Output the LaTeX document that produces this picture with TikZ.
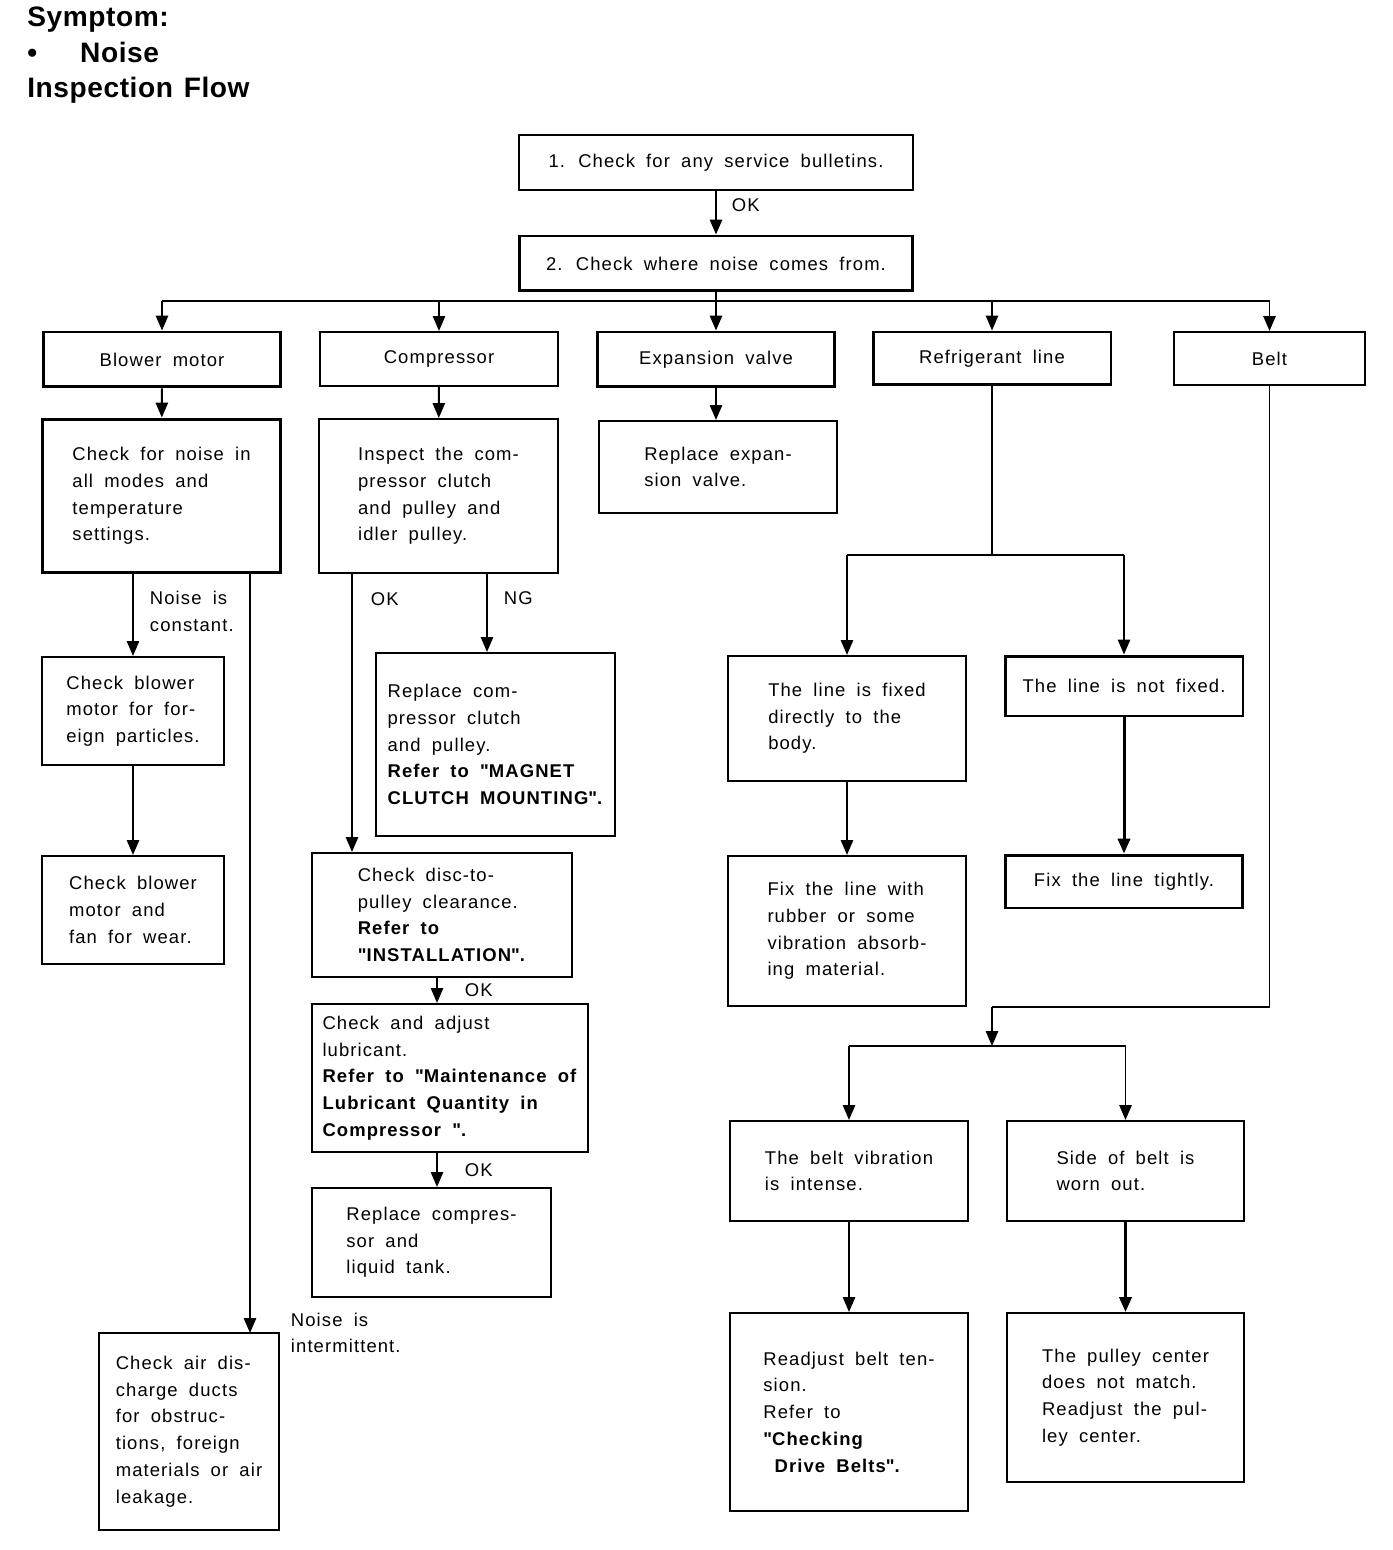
\documentclass[tikz,border=0pt]{standalone}
\usepackage{fontspec}
\setmainfont{Liberation Sans}[LetterSpace=6,WordSpace=1.8]
\newfontfamily\headfam{Liberation Sans}[LetterSpace=2,WordSpace=1.3]
\usetikzlibrary{arrows.meta}
\newcommand\bodyfont{\fontsize{10.5}{15.2}\selectfont}
\newcommand\headfont{\headfam\fontsize{16}{20}\selectfont\bfseries}
\newcommand\dq{\textquotedbl}

\begin{document}
\begin{tikzpicture}[x=0.02cm,y=-0.02cm,
    box/.style={draw,line width=1.2pt,align=left,inner sep=0pt,font=\bodyfont},
    heavybox/.style={box,line width=1.7pt},
    lbl/.style={inner sep=0pt,align=left,font=\bodyfont},
    conn/.style={line width=1.1pt},
    arr/.style={conn,-{Triangle[length=8.5pt,width=7pt]}}]
  \useasboundingbox (0,0) rectangle (1392,1550);

  \node[inner sep=0pt,align=left,font=\headfont,anchor=north west] (title) at (27,7)
    {Symptom:\\\textbullet\hspace{0.86cm}Noise\\Inspection Flow};

  % top of the flow
  \node[box,align=center,minimum width=7.88cm,minimum height=1.10cm] (svc) at (716,162.5)
    {1. Check for any service bulletins.};
  \node[heavybox,align=center,minimum width=7.86cm,minimum height=1.10cm] (where) at (716,263.5)
    {2. Check where noise comes from.};

  % noise sources
  \node[heavybox,align=center,minimum width=4.76cm,minimum height=1.10cm] (blower) at (162,359.5) {Blower motor};
  \node[box,align=center,minimum width=4.76cm,minimum height=1.08cm] (compr) at (439,359) {Compressor};
  \node[heavybox,align=center,minimum width=4.74cm,minimum height=1.10cm] (expv) at (716,359.5) {Expansion valve};
  \node[heavybox,align=center,minimum width=4.76cm,minimum height=1.06cm] (refl) at (992,358.5) {Refrigerant line};
  \node[box,align=center,minimum width=3.82cm,minimum height=1.06cm] (belt) at (1269.5,358.5) {Belt};

  % blower motor branch
  \node[heavybox,minimum width=4.78cm,minimum height=3.08cm] (chkNoise) at (161.5,496)
    {Check for noise in\\all modes and\\temperature\\settings.};
  \node[box,minimum width=3.64cm,minimum height=2.16cm] (fp) at (133,711)
    {Check blower\\motor for for-\\eign particles.};
  \node[box,minimum width=3.64cm,minimum height=2.16cm] (wear) at (133,910)
    {Check blower\\motor and\\fan for wear.};
  \node[box,minimum width=3.60cm,minimum height=3.94cm] (air) at (189,1431.5)
    {Check air dis-\\charge ducts\\for obstruc-\\tions, foreign\\materials or air\\leakage.};

  % compressor branch
  \node[box,minimum width=4.78cm,minimum height=3.08cm] (inspect) at (438.5,496)
    {Inspect the com-\\pressor clutch\\and pulley and\\idler pulley.};
  \node[box,minimum width=4.78cm,minimum height=3.66cm] (replClutch) at (495.5,744.5)
    {Replace com-\\pressor clutch\\and pulley.\\\textbf{Refer to \dq MAGNET}\\\textbf{CLUTCH MOUNTING\dq.}};
  \node[box,minimum width=5.20cm,minimum height=2.48cm] (disc) at (442,915)
    {Check disc-to-\\pulley clearance.\\\textbf{Refer to}\\\textbf{\dq INSTALLATION\dq.}};
  \node[box,minimum width=5.52cm,minimum height=2.96cm] (lub) at (450,1078)
    {Check and adjust\\lubricant.\\\textbf{Refer to \dq Maintenance of}\\\textbf{Lubricant Quantity in}\\\textbf{Compressor \dq.}};
  \node[box,minimum width=4.78cm,minimum height=2.18cm] (replComp) at (431.5,1242.5)
    {Replace compres-\\sor and\\liquid tank.};

  % expansion valve branch
  \node[box,minimum width=4.76cm,minimum height=1.84cm] (replExp) at (718,467)
    {Replace expan-\\sion valve.};

  % refrigerant line branch
  \node[box,minimum width=4.76cm,minimum height=2.50cm] (fixed) at (847,718.5)
    {The line is fixed\\directly to the\\body.};
  \node[heavybox,align=center,minimum width=4.76cm,minimum height=1.20cm] (notfixed) at (1124,686)
    {The line is not fixed.};
  \node[box,minimum width=4.76cm,minimum height=3.00cm] (fixline) at (847,931)
    {Fix the line with\\rubber or some\\vibration absorb-\\ing material.};
  \node[heavybox,align=center,minimum width=4.74cm,minimum height=1.06cm] (tight) at (1124,881.5)
    {Fix the line tightly.};

  % belt branch
  \node[box,minimum width=4.76cm,minimum height=2.00cm] (vib) at (849,1171)
    {The belt vibration\\is intense.};
  \node[box,minimum width=4.74cm,minimum height=2.00cm] (worn) at (1125.5,1171)
    {Side of belt is\\worn out.};
  \node[box,minimum width=4.76cm,minimum height=3.96cm] (readj) at (849,1412)
    {Readjust belt ten-\\sion.\\Refer to\\\textbf{\dq Checking}\\\textbf{\ Drive Belts\dq.}};
  \node[box,minimum width=4.74cm,minimum height=3.38cm] (pulley) at (1125.5,1397.5)
    {The pulley center\\does not match.\\Readjust the pul-\\ley center.};

  % helper points
  \coordinate (bus) at (716,301);
  \coordinate (intm) at (250,1333);
  \coordinate (okx) at (352,0);
  \coordinate (ngx) at (487,0);
  \coordinate (lubx) at (437,0);
  \coordinate (rsplit) at (992,555);
  \coordinate (bsplit) at (992,1007);
  \coordinate (bsplit2) at (992,1046);

  % connectors
  \draw[arr] (svc) -- (where) node[lbl,pos=0.33,anchor=west,xshift=0.3cm] {OK};
  \draw[conn] (where) -- (bus);
  \draw[conn] (blower.north |- bus) -- (belt.north |- bus);
  \foreach \n in {blower,compr,expv,refl,belt}
    \draw[arr] (\n.north |- bus) -- (\n.north);

  \draw[arr] (blower) -- (chkNoise);
  \draw[arr] (chkNoise.south -| fp.north) -- (fp.north)
    node[lbl,pos=0.45,anchor=west,xshift=0.32cm] {Noise is\\constant.};
  \draw[arr] (fp) -- (wear);
  \draw[arr] (chkNoise.south -| intm) -- (intm)
    node[lbl,pos=1,anchor=west,xshift=0.8cm] {Noise is\\intermittent.};

  \draw[arr] (compr) -- (inspect);
  \draw[arr] (inspect.south -| okx) -- (disc.north -| okx)
    node[lbl,pos=0.09,anchor=west,xshift=0.36cm] {OK};
  \draw[arr] (inspect.south -| ngx) -- (replClutch.north -| ngx)
    node[lbl,pos=0.31,anchor=west,xshift=0.32cm] {NG};
  \draw[arr] (disc.south -| lubx) -- (lub.north -| lubx)
    node[lbl,pos=0.5,anchor=west,xshift=0.54cm] {OK};
  \draw[arr] (lub.south -| lubx) -- (replComp.north -| lubx)
    node[lbl,pos=0.5,anchor=west,xshift=0.54cm] {OK};

  \draw[arr] (expv.south) -- (expv.south |- replExp.north);

  \draw[conn] (refl) -- (rsplit);
  \draw[conn] (fixed.north |- rsplit) -- (notfixed.north |- rsplit);
  \draw[arr] (fixed.north |- rsplit) -- (fixed);
  \draw[arr] (notfixed.north |- rsplit) -- (notfixed);
  \draw[arr] (fixed) -- (fixline);
  \draw[arr,line width=1.7pt] (notfixed) -- (tight);

  \draw[conn] (belt) |- (bsplit);
  \draw[arr] (bsplit) -- (bsplit2);
  \draw[conn] (vib.north |- bsplit2) -- (worn.north |- bsplit2);
  \draw[arr] (vib.north |- bsplit2) -- (vib);
  \draw[arr] (worn.north |- bsplit2) -- (worn);
  \draw[arr] (vib) -- (readj);
  \draw[arr,line width=1.7pt] (worn) -- (pulley);
\end{tikzpicture}
\end{document}
